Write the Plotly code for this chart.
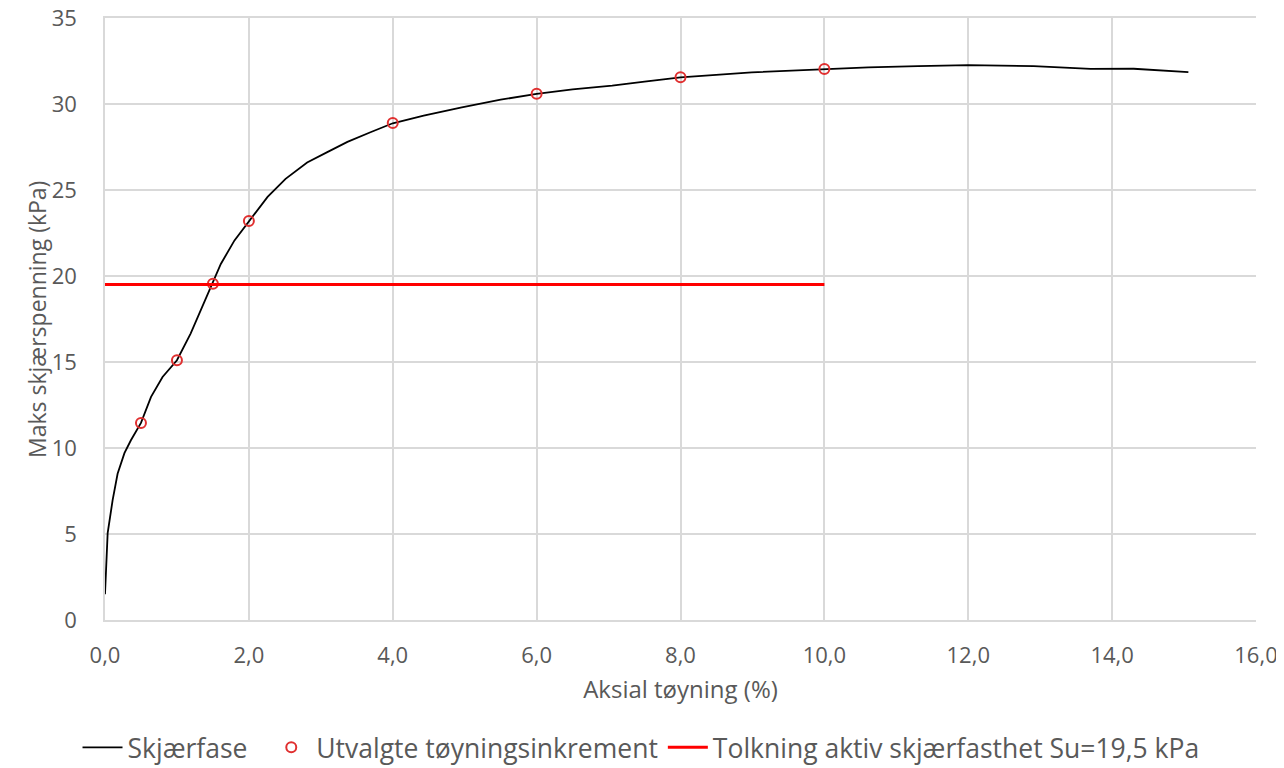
import plotly.graph_objects as go

# Shear phase curve (axial strain %, max shear stress kPa)
strain = [0.0, 0.037, 0.106, 0.175, 0.27, 0.36, 0.5, 0.64, 0.80, 1.0, 1.19, 1.33, 1.5,
          1.61, 1.80, 2.0, 2.26, 2.51, 2.81, 3.09, 3.37, 3.69, 4.0, 4.43, 4.96, 5.5,
          6.0, 6.5, 7.05, 7.5, 8.0, 8.99, 10.0, 10.61, 11.3, 12.0, 12.91, 13.7, 14.3,
          14.73, 15.06]
stress = [1.5, 5.05, 6.97, 8.5, 9.7, 10.45, 11.46, 12.97, 14.13, 15.1, 16.65, 18.0, 19.55,
          20.7, 22.07, 23.2, 24.6, 25.65, 26.6, 27.2, 27.8, 28.36, 28.88, 29.33, 29.81, 30.25,
          30.59, 30.85, 31.07, 31.3, 31.55, 31.84, 32.04, 32.13, 32.2, 32.26, 32.2, 32.04, 32.05,
          31.94, 31.85]

# Selected strain increments
sel_strain = [0.5, 1.0, 1.5, 2.0, 4.0, 6.0, 8.0, 10.0]
sel_stress = [11.46, 15.1, 19.55, 23.2, 28.9, 30.59, 31.55, 32.04]

# Interpreted active shear strength
su_strain = [0.0, 10.0]
su_value = [19.5, 19.5]

x_ticks = [0, 2, 4, 6, 8, 10, 12, 14, 16]
y_ticks = [0, 5, 10, 15, 20, 25, 30, 35]

FONT = "Open Sans"
GREY = "#595959"
GRID = "#d9d9d9"
NB = "\u00a0"

fig = go.Figure()
fig.add_trace(go.Scatter(x=strain, y=stress, mode="lines", name="Skjærfase" + NB * 2,
                         line=dict(color="black", width=1.8)))
fig.add_trace(go.Scatter(x=sel_strain, y=sel_stress, mode="markers",
                         name="Utvalgte tøyningsinkrement",
                         marker=dict(symbol="circle-open", size=10, color="#e03030",
                                     line=dict(width=2, color="#e03030"))))
fig.add_trace(go.Scatter(x=su_strain, y=su_value, mode="lines",
                         name="Tolkning aktiv skjærfasthet Su=19,5 kPa",
                         line=dict(color="#ff0000", width=3)))

fig.update_layout(
    width=1284, height=768,
    margin=dict(l=97, r=36, t=10, b=156, autoexpand=False),
    paper_bgcolor="white", plot_bgcolor="white",
    separators=", ",
    font=dict(family=FONT, color=GREY, size=20),
    showlegend=True,
    legend=dict(orientation="h", xref="container", x=0.493, xanchor="center",
                y=-0.212, yanchor="middle",
                font=dict(size=26.5, color=GREY, family=FONT), itemwidth=40,
                traceorder="normal"),
)
fig.add_annotation(text="Maks skjærspenning (kPa)", textangle=-90,
                   xref="paper", yref="paper", x=-0.0591, y=0.5,
                   xanchor="center", yanchor="middle", showarrow=False,
                   font=dict(size=23, color=GREY, family=FONT))
fig.update_xaxes(range=[0, 16], tickvals=x_ticks, tickformat=".1f",
                 showgrid=True, gridcolor=GRID, gridwidth=1.5, automargin=False,
                 showline=True, mirror=True, linecolor=GRID, linewidth=1.5, zeroline=False,
                 ticks="", ticklabelstandoff=15, ticklabeloverflow="allow",
                 tickfont=dict(size=22, color=GREY, family=FONT),
                 title=dict(text="Aksial tøyning (%)", font=dict(size=24, color=GREY, family=FONT),
                            standoff=13))
fig.update_yaxes(range=[0, 35], tickvals=y_ticks, automargin=False,
                 showgrid=True, gridcolor=GRID, gridwidth=1.5,
                 showline=True, linecolor=GRID, linewidth=1.5, zeroline=False,
                 ticks="", ticklabelstandoff=22, ticklabeloverflow="allow",
                 tickfont=dict(size=22, color=GREY, family=FONT))

fig.write_html("out.html")
